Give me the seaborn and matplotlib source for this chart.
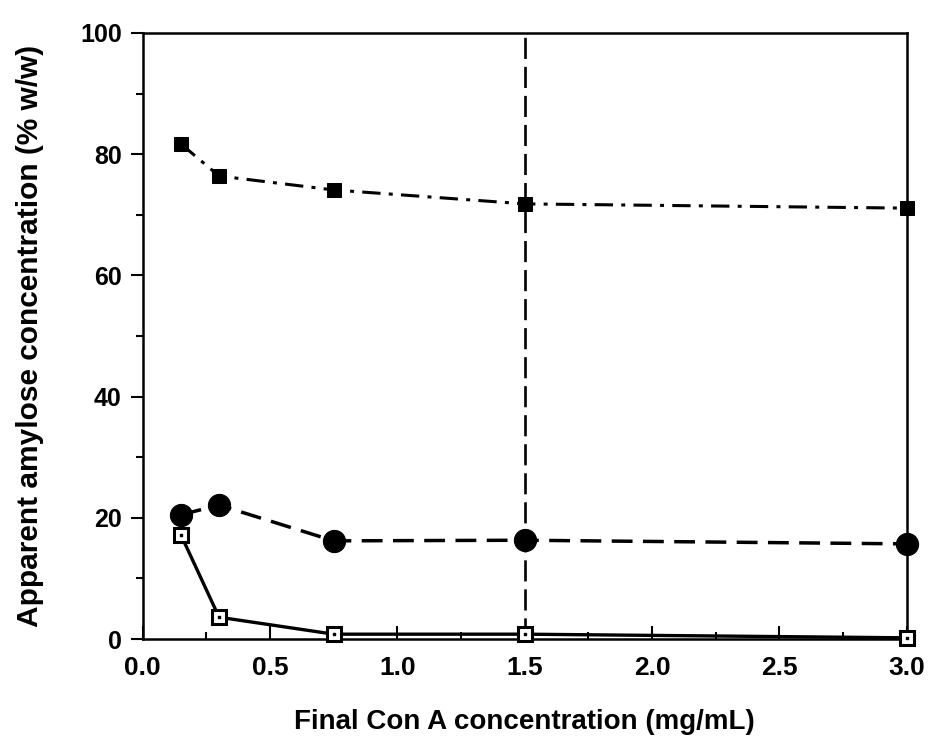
import seaborn as sns
import numpy as np
import matplotlib.pyplot as plt
import pandas as pd
from matplotlib.ticker import MultipleLocator

# data
con_a = [0.15, 0.3, 0.75, 1.5, 3.0]
filled_sq = [81.7, 76.4, 74.1, 71.8, 71.1]
filled_circ = [20.5, 22.1, 16.2, 16.3, 15.7]
open_sq = [17.2, 3.6, 0.8, 0.8, 0.2]
vline_x = 1.5

x_ticks = [0.0, 0.5, 1.0, 1.5, 2.0, 2.5, 3.0]
x_labels = ["0.0", "0.5", "1.0", "1.5", "2.0", "2.5", "3.0"]
y_ticks = [0, 20, 40, 60, 80, 100]

sns.set_style("ticks")
plt.rcParams["font.family"] = ["Liberation Sans", "DejaVu Sans"]
plt.rcParams["font.weight"] = "bold"
plt.rcParams["text.color"] = "black"
plt.rcParams["axes.labelcolor"] = "black"
plt.rcParams["xtick.color"] = "black"
plt.rcParams["ytick.color"] = "black"

df = pd.DataFrame({"x": con_a, "sq": filled_sq, "circ": filled_circ, "osq": open_sq})

fig = plt.figure(figsize=(9.35, 7.46), dpi=100)
ax = fig.add_axes([0.1526, 0.1434, 0.8170, 0.8124])

ax.plot([vline_x, vline_x], [0, 100], color="black", lw=1.9, dashes=(8, 3), zorder=1)

sns.lineplot(data=df, x="x", y="sq", ax=ax, color="black", lw=2.2,
             marker="s", markersize=10, markeredgecolor="black",
             zorder=3, clip_on=False)
ax.lines[-1].set_dashes((6, 2.7, 1.3, 2.7))

sns.lineplot(data=df, x="x", y="circ", ax=ax, color="black", lw=2.5,
             marker="o", markersize=16, markeredgecolor="black",
             zorder=3, clip_on=False)
ax.lines[-1].set_dashes((6, 3))

sns.lineplot(data=df, x="x", y="osq", ax=ax, color="black", lw=2.4,
             marker="s", markersize=9.5, markerfacecolor="white",
             markeredgecolor="black", markeredgewidth=2.2, zorder=4, clip_on=False)
ax.scatter(con_a, open_sq, s=3, color="black", marker="s", zorder=5, clip_on=False)

ax.set_xlim(0, 3.0)
ax.set_ylim(0, 100)
ax.set_xticks(x_ticks)
ax.set_xticklabels(x_labels)
ax.set_yticks(y_ticks)
ax.xaxis.set_minor_locator(MultipleLocator(0.25))
ax.yaxis.set_minor_locator(MultipleLocator(10))

ax.tick_params(axis="x", which="major", direction="in", length=9.5, width=1.5,
               labelsize=19, pad=12)
ax.tick_params(axis="x", which="minor", direction="in", length=5, width=1.5)
ax.tick_params(axis="y", which="major", direction="out", length=9, width=1.5,
               labelsize=18, pad=6)
ax.tick_params(axis="y", which="minor", direction="out", length=5, width=1.5)
for t in ax.get_xticklabels() + ax.get_yticklabels():
    t.set_fontweight("bold")

for s in ax.spines.values():
    s.set_linewidth(1.8)
    s.set_color("black")

ax.set_xlabel("Final Con A concentration (mg/mL)", fontsize=20, fontweight="bold", labelpad=21)
ax.set_ylabel("Apparent amylose concentration (% w/w)", fontsize=21.5, fontweight="bold", labelpad=26)

fig.savefig("out.png", dpi=100)
